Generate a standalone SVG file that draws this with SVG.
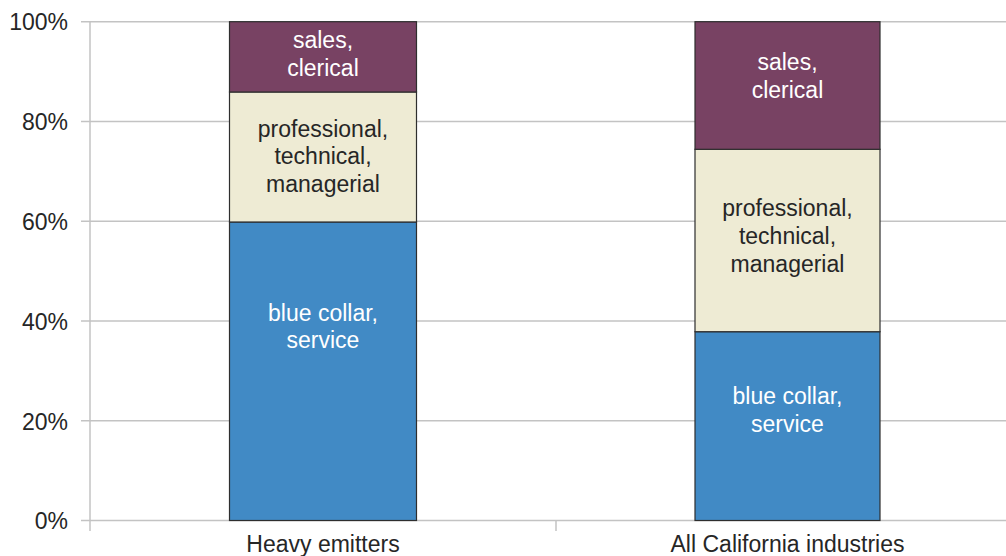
<svg xmlns="http://www.w3.org/2000/svg" width="1006" height="556" viewBox="0 0 1006 556">
<style>
.grid{stroke:#c3c3c3;stroke-width:1.5;fill:none}
.bar{stroke:#2e2e2e;stroke-width:1.2}
.sales{fill:#784263}
.prof{fill:#eeebd4}
.blue{fill:#418ac5}
text{font-family:"Liberation Sans",Arial,sans-serif;font-size:23px;fill:#262626}
.c{text-anchor:middle}
.w{fill:#ffffff}
.ax{text-anchor:end}
</style>
<rect width="1006" height="556" fill="#ffffff"/>
<g id="axes">
<path class="grid" d="M81 21.7H1006M81 121.5H1006M81 221.3H1006M81 321H1006M81 420.8H1006M81 520.5H1006M90 21.7V531M556 520.5V531"/>
<text class="ax" x="68" y="30">100%</text>
<text class="ax" x="68" y="130">80%</text>
<text class="ax" x="68" y="230">60%</text>
<text class="ax" x="68" y="329.5">40%</text>
<text class="ax" x="68" y="429.5">20%</text>
<text class="ax" x="68" y="529">0%</text>
<text class="c" x="323" y="552">Heavy emitters</text>
<text class="c" x="787.5" y="552">All California industries</text>
</g>
<g id="bar-heavy">
<rect class="bar blue" x="229.5" y="222" width="187" height="298.5"/>
<rect class="bar prof" x="229.5" y="92" width="187" height="130"/>
<rect class="bar sales" x="229.5" y="21.7" width="187" height="70.3"/>
<text class="c w" x="323" y="48">sales,</text>
<text class="c w" x="323" y="76">clerical</text>
<text class="c" x="323" y="136.5">professional,</text>
<text class="c" x="323" y="164">technical,</text>
<text class="c" x="323" y="191.5">managerial</text>
<text class="c w" x="323" y="320.5">blue collar,</text>
<text class="c w" x="323" y="348">service</text>
</g>
<g id="bar-all">
<rect class="bar blue" x="695" y="331.7" width="185" height="188.8"/>
<rect class="bar prof" x="695" y="149.3" width="185" height="182.4"/>
<rect class="bar sales" x="695" y="21.7" width="185" height="127.6"/>
<text class="c w" x="787.5" y="70">sales,</text>
<text class="c w" x="787.5" y="98">clerical</text>
<text class="c" x="787.5" y="215.5">professional,</text>
<text class="c" x="787.5" y="244">technical,</text>
<text class="c" x="787.5" y="272">managerial</text>
<text class="c w" x="787.5" y="404">blue collar,</text>
<text class="c w" x="787.5" y="431.5">service</text>
</g>
</svg>
